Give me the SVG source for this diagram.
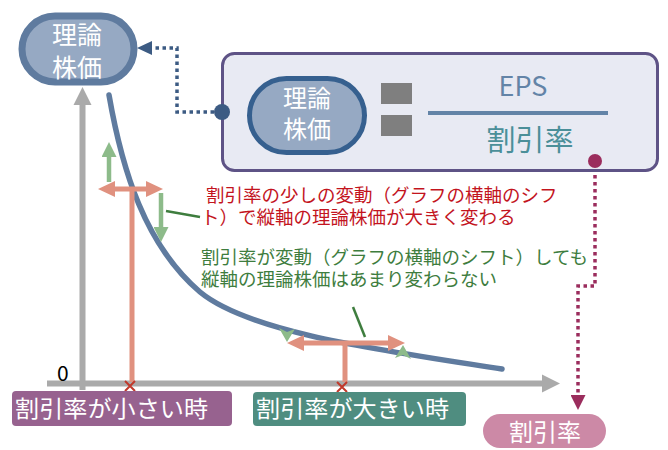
<svg xmlns="http://www.w3.org/2000/svg" width="668" height="450" viewBox="0 0 668 450">
<style>
text{font-family:"Noto Sans CJK JP","Noto Sans",sans-serif}
.w{fill:#fff}
.pill{fill:#96a9c3}
.axis{stroke:#aaaaaa;stroke-width:6;fill:none}
.pk{stroke:#e0917f;stroke-width:5;fill:none}
.gr{stroke:#8dbb8a;stroke-width:4.5;fill:none}
.xm{stroke:#c0392b;stroke-width:2;fill:none}
.lead{stroke:#3e7d3e;stroke-width:2.5;fill:none}
.red{fill:#c3141e;font-size:18.5px}
.grt{fill:#3e7d3e;font-size:18.5px}
.lbl{font-size:23px;fill:#fff}
</style>
<defs>
<marker id="pkh" viewBox="0 0 17 16" refX="1" refY="8" markerWidth="17" markerHeight="16" markerUnits="userSpaceOnUse" orient="auto-start-reverse"><path d="M0,0 L17,8 L0,16 z" fill="#e0917f"/></marker>
<marker id="grh" viewBox="0 0 15 15" refX="1" refY="7.5" markerWidth="15" markerHeight="15" markerUnits="userSpaceOnUse" orient="auto"><path d="M0,0 L15,7.5 L0,15 z" fill="#8dbb8a"/></marker>
<marker id="mgh" viewBox="0 0 15 15" refX="1" refY="7.5" markerWidth="15" markerHeight="15" markerUnits="userSpaceOnUse" orient="auto"><path d="M0,0 L15,7.5 L0,15 z" fill="#9b2d5d"/></marker>
<marker id="blh" viewBox="0 0 15 14" refX="1" refY="7" markerWidth="15" markerHeight="14" markerUnits="userSpaceOnUse" orient="auto"><path d="M0,0 L15,7 L0,14 z" fill="#3c5b83"/></marker>
</defs>

<g id="axes">
<line class="axis" x1="82.5" y1="390" x2="82.5" y2="104"/>
<polygon points="82.5,87 73.5,105 91.5,105" fill="#aaaaaa"/>
<line class="axis" x1="47" y1="383.5" x2="543" y2="383.5"/>
<polygon points="560,383.5 542,374.5 542,392.5" fill="#aaaaaa"/>
<text x="57" y="381" font-size="21" fill="#000">0</text>
</g>

<g id="curve">
<path d="M109,95 C122,170 145,245 200,292 C250,333 380,350 502,369" fill="none" stroke="#5f7b9f" stroke-width="5.5" stroke-linecap="round"/>
</g>

<g id="connectors">
<path d="M214,112 H177 V48 H151" fill="none" stroke="#3c5b83" stroke-width="3.5" stroke-dasharray="3.5 3.5" marker-end="url(#blh)"/>
<path d="M595,168 V286 H578 V396" fill="none" stroke="#9b2d5d" stroke-width="3.5" stroke-dasharray="3.5 3.5" marker-end="url(#mgh)"/>
<line class="pk" x1="114" y1="189" x2="147" y2="189" marker-start="url(#pkh)" marker-end="url(#pkh)"/>
<line class="pk" x1="132" y1="189" x2="132" y2="382"/>
<line class="pk" x1="303" y1="343" x2="389" y2="343" marker-start="url(#pkh)" marker-end="url(#pkh)"/>
<line class="pk" x1="345" y1="343" x2="345" y2="382"/>
<path class="xm" d="M125,381 L135,391 M135,381 L125,391"/>
<path class="xm" d="M337,382 L347,392 M347,382 L337,392"/>
<line class="gr" x1="109" y1="182" x2="109" y2="156" marker-end="url(#grh)"/>
<line class="gr" x1="161" y1="193" x2="161" y2="228" marker-end="url(#grh)"/>
<polygon points="287,342 279,328 287,332 295,329" fill="#8dbb8a"/>
<polygon points="403,345 411,359 403,355 395,358" fill="#8dbb8a"/>
<line class="lead" x1="166" y1="211" x2="200" y2="217"/>
<line class="lead" x1="353" y1="307" x2="365" y2="337"/>
</g>

<g id="node-price">
<rect x="22" y="16" width="112" height="66" rx="33" class="pill" stroke="#5f7b9f" stroke-width="7"/>
<text x="77" y="44" font-size="25" text-anchor="middle" class="w">理論</text>
<text x="77" y="77" font-size="25" text-anchor="middle" class="w">株価</text>
</g>

<g id="node-formula">
<rect x="222.5" y="53.5" width="435" height="117" rx="12" fill="#e8eaf3" stroke="#5e5386" stroke-width="3"/>
<rect x="249.5" y="78.5" width="115" height="74" rx="37" class="pill" stroke="#36608f" stroke-width="5"/>
<text x="307" y="107" font-size="24" text-anchor="middle" class="w">理論</text>
<text x="307" y="138" font-size="24" text-anchor="middle" class="w">株価</text>
<rect x="381" y="83" width="31" height="21" fill="#7f7f7f"/>
<rect x="381" y="115" width="31" height="21" fill="#7f7f7f"/>
<line x1="428" y1="113" x2="608" y2="113" stroke="#6384a7" stroke-width="4"/>
<text x="523" y="96" font-size="27" text-anchor="middle" fill="#6384a7">EPS</text>
<text x="530" y="151" font-size="29" text-anchor="middle" fill="#4b8f99">割引率</text>
<circle cx="222" cy="112" r="8" fill="#3c5b83"/>
<circle cx="595" cy="161" r="7" fill="#9b2d5d"/>
</g>

<g id="note-red">
<text class="red" x="206" y="202">割引率の少しの変動（グラフの横軸のシフ</text>
<text class="red" x="201" y="224">ト）で縦軸の理論株価が大きく変わる</text>
</g>

<g id="note-green">
<text class="grt" x="201" y="264">割引率が変動（グラフの横軸のシフト）しても</text>
<text class="grt" x="201" y="286">縦軸の理論株価はあまり変わらない</text>
</g>

<g id="label-small">
<rect x="12" y="391" width="220" height="35" rx="4" fill="#97628f"/>
<text class="lbl" x="15" y="417" textLength="193" lengthAdjust="spacingAndGlyphs">割引率が小さい時</text>
</g>

<g id="label-large">
<rect x="253" y="392" width="213" height="34" rx="4" fill="#4f8d80"/>
<text class="lbl" x="256" y="417" textLength="193" lengthAdjust="spacingAndGlyphs">割引率が大きい時</text>
</g>

<g id="node-rate">
<rect x="483" y="414" width="123" height="34" rx="17" fill="#cc89a6"/>
<text x="545" y="441" font-size="24" text-anchor="middle" class="w">割引率</text>
</g>
</svg>
